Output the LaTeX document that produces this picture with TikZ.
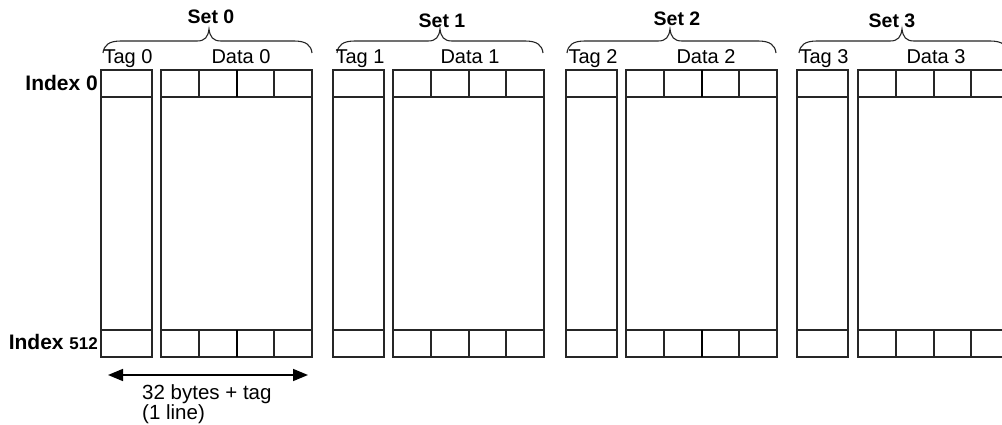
\documentclass[tikz,border=0pt]{standalone}
\usepackage{fontspec}
\setmainfont{Liberation Sans}
\usetikzlibrary{arrows.meta}
\begin{document}
\begin{tikzpicture}[x=1pt,y=-1pt,
  lbl/.style={font=\fontsize{20}{22}\selectfont, inner sep=0pt, anchor=base},
  setlbl/.style={font=\fontsize{19.5}{22}\selectfont\bfseries, inner sep=0pt, anchor=base},
  idxlbl/.style={font=\fontsize{21}{22}\selectfont\bfseries, inner sep=0pt, anchor=base east},
  cellline/.style={draw=black!85, line width=1.4pt},
  thickdiv/.style={draw=black, line width=2.6pt},
  bracepath/.style={draw=black!85, line width=1.1pt},
  dimarrow/.style={draw=black, line width=1.6pt, {Triangle[length=15pt,width=12pt]}-{Triangle[length=15pt,width=12pt]}}]
\useasboundingbox (0,0) rectangle (1002,425);
\fill[white] (0,0) rectangle (1002,425);

% sets: number / tag left / data left / brace left / brace tip / brace right / set label x / set label baseline / data label x
\foreach \s/\tx/\dx/\bl/\bt/\br/\sx/\sy/\dlx in {
  0/101/161/103/209/312/211/24/241,
  1/333/393/337/440/543/442/28/470,
  2/566/626/567/670/776/677/26/706,
  3/797/858/799/902/1008/892/28/936}{
  % tag column
  \draw[cellline] (\tx,70) rectangle ({\tx+51},357);
  \draw[cellline] (\tx,97) -- ({\tx+51},97);
  \draw[cellline] (\tx,330) -- ({\tx+51},330);
  % data column
  \draw[cellline] (\dx,70) rectangle ({\dx+151},357);
  \draw[cellline] (\dx,97) -- ({\dx+151},97);
  \draw[cellline] (\dx,330) -- ({\dx+151},330);
  \foreach \o in {38,113}{
    \draw[cellline] ({\dx+\o},70) -- ({\dx+\o},97);
    \draw[cellline] ({\dx+\o},330) -- ({\dx+\o},357);
  }
  % brace
  \draw[bracepath] (\bl,53) .. controls ({\bl+1},45) and ({\bl+6},41) .. ({\bl+18},41)
     -- ({\bt-12},41) .. controls ({\bt-4},41) and ({\bt-1},37) .. (\bt,29)
     .. controls ({\bt+1},37) and ({\bt+4},41) .. ({\bt+12},41)
     -- ({\br-18},41) .. controls ({\br-6},41) and ({\br-1},45) .. (\br,53);
  % labels
  \node[setlbl] (set\s) at (\sx,\sy) {Set \s};
  \node[lbl] (tag\s) at ({\tx+27},64) {Tag \s};
  \node[lbl] (data\s) at (\dlx,64) {Data \s};
}
% middle dividers (thick in sets 0 and 2)
\foreach \dx/\sty in {161/thickdiv,393/cellline,626/thickdiv,858/cellline}{
  \draw[\sty] ({\dx+76},70) -- ({\dx+76},97);
  \draw[\sty] ({\dx+76},330) -- ({\dx+76},357);
}

\node[idxlbl] (idx0) at (98,91) {Index 0};
\node[idxlbl] (idx512) at (98,349) {Index {\fontsize{17}{20}\selectfont 512}};

\coordinate (al) at (108,375);
\coordinate (ar) at (308,375);
\draw[dimarrow] (al) -- (ar);
\node[anchor=north west, inner sep=0pt, align=left, font=\fontsize{20.5}{18.5}\selectfont] (len) at (142,384.5) {32 bytes + tag\\(1 line)};
\end{tikzpicture}
\end{document}
